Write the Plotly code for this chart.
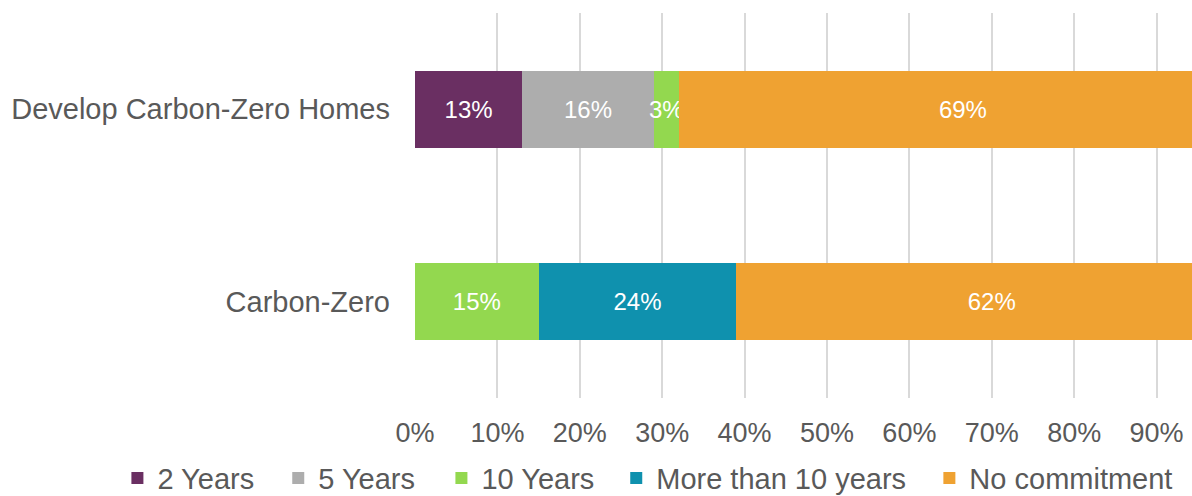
import plotly.graph_objects as go

categories = ["Develop Carbon-Zero Homes", "Carbon-Zero"]
series_names = ["2 Years", "5 Years", "10 Years", "More than 10 years", "No commitment"]
two_years = [13, None]
five_years = [16, None]
ten_years = [3, 15]
more_than_ten = [None, 24]
no_commitment = [69, 62]
tick_values = [0, 10, 20, 30, 40, 50, 60, 70, 80, 90]
tick_labels = ["0%", "10%", "20%", "30%", "40%", "50%", "60%", "70%", "80%", "90%"]

colors = ["#6A2F62", "#ADADAD", "#93D84F", "#0F91AE", "#EFA232"]
values = [two_years, five_years, ten_years, more_than_ten, no_commitment]

FONT = "Liberation Sans, Arial, sans-serif"
TEXT_GREY = "#595959"

# Horizontal placement (paper fraction) of each legend entry along the bottom row
legend_x = [-0.383, -0.176, 0.034, 0.259, 0.662]
legend_ids = ["legend", "legend2", "legend3", "legend4", "legend5"]

fig = go.Figure()
for name, vals, color, lid in zip(series_names, values, colors, legend_ids):
    fig.add_trace(go.Bar(
        y=categories,
        x=vals,
        name=name,
        orientation="h",
        legend=lid,
        showlegend=True,
        marker=dict(color=color, line=dict(width=0)),
        text=[f"{v}%" if v is not None else "" for v in vals],
        textposition="inside",
        insidetextanchor="middle",
        textangle=0,
        constraintext="none",
        textfont=dict(color="white", size=24, family=FONT),
        hoverinfo="skip",
    ))

legend_style = dict(
    orientation="h",
    xanchor="left",
    y=-0.208,
    yanchor="middle",
    font=dict(size=29, color=TEXT_GREY, family=FONT),
    itemwidth=30,
    bgcolor="rgba(0,0,0,0)",
)

fig.update_layout(
    barmode="stack",
    bargap=0.6,
    showlegend=True,
    width=1192,
    height=496,
    margin=dict(l=415, r=0, t=13, b=98, autoexpand=False),
    paper_bgcolor="white",
    plot_bgcolor="white",
    font=dict(family=FONT, color=TEXT_GREY),
    xaxis=dict(
        range=[0, 94.3],
        tickvals=tick_values,
        ticktext=tick_labels,
        tickfont=dict(size=27, color=TEXT_GREY, family=FONT),
        showgrid=True,
        gridcolor="#D9D9D9",
        gridwidth=2,
        zeroline=False,
        showline=False,
        ticks="",
        ticklabelstandoff=16,
        automargin=False,
    ),
    yaxis=dict(
        categoryorder="array",
        categoryarray=categories[::-1],
        tickfont=dict(size=29, color=TEXT_GREY, family=FONT),
        showgrid=False,
        zeroline=False,
        showline=False,
        ticks="",
        ticklabelstandoff=24,
        automargin=False,
    ),
)

for lid, lx in zip(legend_ids, legend_x):
    fig.update_layout({lid: dict(legend_style, x=lx)})

fig.write_html("out.html")
